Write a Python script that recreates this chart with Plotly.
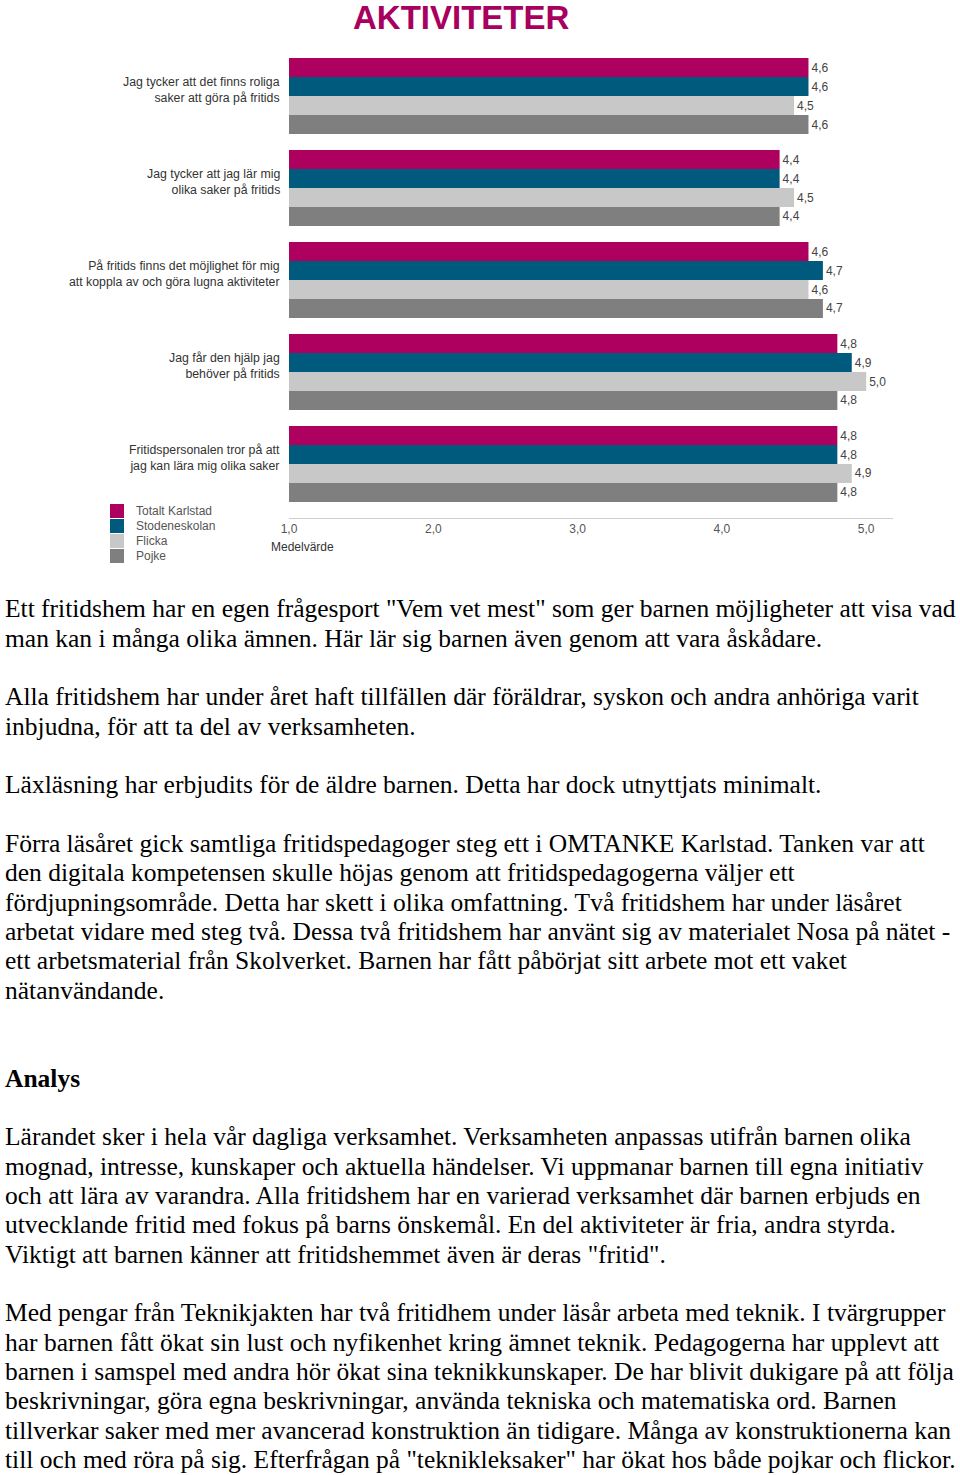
import plotly.graph_objects as go

# ── Data ──────────────────────────────────────────────────────────────────────
questions = [
    "Jag tycker att det finns roliga<br>saker att göra på fritids",
    "Jag tycker att jag lär mig<br>olika saker på fritids",
    "På fritids finns det möjlighet för mig<br>att koppla av och göra lugna aktiviteter",
    "Jag får den hjälp jag<br>behöver på fritids",
    "Fritidspersonalen tror på att<br>jag kan lära mig olika saker",
]
series = ["Totalt Karlstad", "Stodeneskolan", "Flicka", "Pojke"]
colors = ["#AE005E", "#005A7D", "#C8C8C8", "#7F7F7F"]

totalt_karlstad = [4.6, 4.4, 4.6, 4.8, 4.8]
stodeneskolan   = [4.6, 4.4, 4.7, 4.9, 4.8]
flicka          = [4.5, 4.5, 4.6, 5.0, 4.9]
pojke           = [4.6, 4.4, 4.7, 4.8, 4.8]
values = [totalt_karlstad, stodeneskolan, flicka, pojke]

tick_vals = [1, 2, 3, 4, 5]

body_lines = [
    (0,  'Ett fritidshem har en egen frågesport "Vem vet mest" som ger barnen möjligheter att visa vad'),
    (1,  'man kan i många olika ämnen. Här lär sig barnen även genom att vara åskådare.'),
    (3,  'Alla fritidshem har under året haft tillfällen där föräldrar, syskon och andra anhöriga varit'),
    (4,  'inbjudna, för att ta del av verksamheten.'),
    (6,  'Läxläsning har erbjudits för de äldre barnen. Detta har dock utnyttjats minimalt.'),
    (8,  'Förra läsåret gick samtliga fritidspedagoger steg ett i OMTANKE Karlstad. Tanken var att'),
    (9,  'den digitala kompetensen skulle höjas genom att fritidspedagogerna väljer ett'),
    (10, 'fördjupningsområde. Detta har skett i olika omfattning. Två fritidshem har under läsåret'),
    (11, 'arbetat vidare med steg två. Dessa två fritidshem har använt sig av materialet Nosa på nätet -'),
    (12, 'ett arbetsmaterial från Skolverket. Barnen har fått påbörjat sitt arbete mot ett vaket'),
    (13, 'nätanvändande.'),
    (16, '<b>Analys</b>'),
    (18, 'Lärandet sker i hela vår dagliga verksamhet. Verksamheten anpassas utifrån barnen olika'),
    (19, 'mognad, intresse, kunskaper och aktuella händelser. Vi uppmanar barnen till egna initiativ'),
    (20, 'och att lära av varandra. Alla fritidshem har en varierad verksamhet där barnen erbjuds en'),
    (21, 'utvecklande fritid med fokus på barns önskemål. En del aktiviteter är fria, andra styrda.'),
    (22, 'Viktigt att barnen känner att fritidshemmet även är deras "fritid".'),
    (24, 'Med pengar från Teknikjakten har två fritidhem under läsår arbeta med teknik. I tvärgrupper'),
    (25, 'har barnen fått ökat sin lust och nyfikenhet kring ämnet teknik. Pedagogerna har upplevt att'),
    (26, 'barnen i samspel med andra hör ökat sina teknikkunskaper. De har blivit dukigare på att följa'),
    (27, 'beskrivningar, göra egna beskrivningar, använda tekniska och matematiska ord. Barnen'),
    (28, 'tillverkar saker med mer avancerad konstruktion än tidigare. Många av konstruktionerna kan'),
    (29, 'till och med röra på sig. Efterfrågan på "teknikleksaker" har ökat hos både pojkar och flickor.'),
]

W, H = 960, 1475
SANS = "Liberation Sans, Arial, sans-serif"
SERIF = "Liberation Serif, Times New Roman, serif"


def py(px_from_top):
    return 1 - px_from_top / H


# ── Chart ─────────────────────────────────────────────────────────────────────
fig = go.Figure()
for name, color, vals in zip(series, colors, values):
    fig.add_trace(go.Bar(
        y=questions, x=vals, name=name, orientation="h",
        marker=dict(color=color, line=dict(width=0)),
        texttemplate="%{x:.1f}", textposition="outside",
        textfont=dict(family=SANS, size=12, color="#444"),
        cliponaxis=False, showlegend=False,
    ))

fig.update_layout(
    width=W, height=H,
    margin=dict(l=0, r=0, t=0, b=0, pad=0, autoexpand=False),
    paper_bgcolor="white", plot_bgcolor="white",
    barmode="group", bargap=0.174, bargroupgap=0,
    separators=", ",
    showlegend=False,
    xaxis=dict(
        domain=[289 / W, 893 / W], range=[1, 1 + 604 / 144.3],
        tickvals=tick_vals, tickformat=".1f", automargin=False,
        showgrid=False, zeroline=False,
        showline=True, linecolor="#D0D0D0", linewidth=1,
        ticks="", tickfont=dict(family=SANS, size=12, color="#555"),
    ),
    yaxis=dict(
        domain=[py(518), py(50)], range=[4.587, -0.5], automargin=False,
        showticklabels=False, showgrid=False, zeroline=False, showline=False,
    ),
)

# question labels
for q in questions:
    fig.add_annotation(
        x=282 / W, xref="paper", xanchor="right", y=q, yref="y", yshift=6,
        text=q, align="right", showarrow=False,
        font=dict(family=SANS, size=12.3, color="#333"),
    )

# title
fig.add_annotation(
    x=461 / W, y=py(17), xref="paper", yref="paper", xanchor="center", yanchor="middle",
    text="<b>AKTIVITETER</b>", showarrow=False,
    font=dict(family=SANS, size=33, color="#A8005E"),
)

# axis title
fig.add_annotation(
    x=302 / W, y=py(547), xref="paper", yref="paper", xanchor="center", yanchor="middle",
    text="Medelvärde", showarrow=False,
    font=dict(family=SANS, size=12, color="#333"),
)

# legend
for i, (name, color) in enumerate(zip(series, colors)):
    top = 504 + 15 * i
    fig.add_shape(type="rect", xref="paper", yref="paper",
                  x0=110 / W, x1=124 / W, y0=py(top + 14), y1=py(top),
                  fillcolor=color, line=dict(width=0))
    fig.add_annotation(
        x=134 / W, y=py(top + 7), xref="paper", yref="paper", xanchor="left", yanchor="middle",
        text=name, showarrow=False,
        font=dict(family=SANS, size=12, color="#555"),
    )

# ── Body text ─────────────────────────────────────────────────────────────────
for idx, line in body_lines:
    fig.add_annotation(
        x=3 / W, y=py(609 + 29.33 * idx), xref="paper", yref="paper",
        xanchor="left", yanchor="middle", text=line, showarrow=False,
        font=dict(family=SERIF, size=25.5, color="black"),
    )

# page default body margin would push the figure 8px off the window
fig.write_html(
    "out.html",
    config={"displayModeBar": False},
    post_script="document.body.style.margin='0px';",
)
